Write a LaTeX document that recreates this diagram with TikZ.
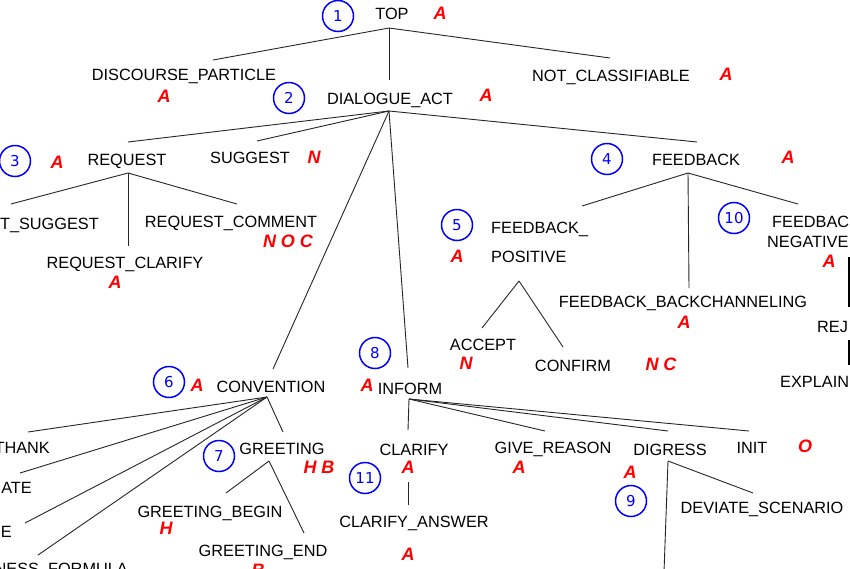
\documentclass[tikz,border=0pt]{standalone}
\usepackage{fontspec}
\setmainfont{Liberation Sans}
\newfontfamily\numfont{DejaVu Sans}
\begin{document}
\begin{tikzpicture}[x=1pt,y=-1pt,
  lbl/.style={inner sep=0pt, anchor=base, font=\fontsize{16.3}{18}\selectfont},
  tag/.style={inner sep=0pt, anchor=base, text=red, font=\fontsize{18}{20}\selectfont\bfseries\itshape},
  num/.style={circle, draw=blue, text=blue, minimum size=31pt, inner sep=0pt, line width=1.5pt, font=\numfont\fontsize{15}{16}\selectfont},
  edge/.style={draw=black!85, line width=0.9pt},
  thick edge/.style={draw=black, line width=2pt}]
\useasboundingbox (0,0) rectangle (850,568);
\clip (0,0) rectangle (850,568);
\fill[white] (0,0) rectangle (850,568);

% ---- circles
\node[num] (c1) at (338,16) {1};
\node[num] (c2) at (289,98) {2};
\node[num] (c3) at (15,161) {3};
\node[num] (c4) at (607,159) {4};
\node[num] (c5) at (457,225) {5};
\node[num] (c6) at (169,382) {6};
\node[num] (c7) at (219,456) {7};
\node[num] (c8) at (375,353) {8};
\node[num] (c9) at (631,501) {9};
\node[num] (c10) at (734,218) {10};
\node[num] (c11) at (365,478) {11};

% ---- labels
\node[lbl] (top) at (392,19) {TOP};
\node[lbl] (dp) at (184,80) {DISCOURSE\_PARTICLE};
\node[lbl] (da) at (390,104) {DIALOGUE\_ACT};
\node[lbl] (nc) at (611,81) {NOT\_CLASSIFIABLE};
\node[lbl] (req) at (127,165) {REQUEST};
\node[lbl] (sug) at (250,163) {SUGGEST};
\node[lbl, anchor=base east] (rs) at (99,229) {T\_SUGGEST};
\node[lbl] (rco) at (231,227) {REQUEST\_COMMENT};
\node[lbl] (rcl) at (125,268) {REQUEST\_CLARIFY};
\node[lbl] (fb) at (696,165) {FEEDBACK};
\node[lbl, anchor=base west] (fp1) at (491,233) {FEEDBACK\_};
\node[lbl, anchor=base west] (fp2) at (491,262) {POSITIVE};
\node[lbl, anchor=base west] (fn1) at (772,227) {FEEDBAC};
\node[lbl, anchor=base west] (fn2) at (767,247) {NEGATIVE};
\node[lbl] (fbc) at (683,307) {FEEDBACK\_BACKCHANNELING};
\node[lbl, anchor=base west] (rej) at (817,332) {REJ};
\node[lbl, anchor=base west] (expl) at (780,387) {EXPLAIN};
\node[lbl] (acc) at (483,350) {ACCEPT};
\node[lbl] (conf) at (573,371) {CONFIRM};
\node[lbl] (conv) at (271,392) {CONVENTION};
\node[lbl] (inf) at (410,394) {INFORM};
\node[lbl, anchor=base east] (th) at (50,453) {THANK};
\node[lbl, anchor=base east] (ate) at (32,493) {ATE};
\node[lbl, anchor=base east] (e) at (12,537) {E};
\node[lbl, anchor=base east] (nf) at (128,574) {NESS\_FORMULA};
\node[lbl] (gr) at (282,454) {GREETING};
\node[lbl] (gb) at (210,517) {GREETING\_BEGIN};
\node[lbl] (ge) at (263,556) {GREETING\_END};
\node[lbl] (cl) at (414,455) {CLARIFY};
\node[lbl] (ca) at (414,527) {CLARIFY\_ANSWER};
\node[lbl] (grs) at (553,453) {GIVE\_REASON};
\node[lbl] (dig) at (670,455) {DIGRESS};
\node[lbl] (init) at (752,453) {INIT};
\node[lbl] (ds) at (762,513) {DEVIATE\_SCENARIO};

% ---- red tags
\node[tag] (t1) at (440,19) {A};
\node[tag] (t2) at (164,102) {A};
\node[tag] (t3) at (486,101) {A};
\node[tag] (t4) at (726,80) {A};
\node[tag] (t5) at (57,168) {A};
\node[tag] (t6) at (314,163) {N};
\node[tag] (t7) at (288,247) {N O C};
\node[tag] (t8) at (115,288) {A};
\node[tag] (t9) at (788,163) {A};
\node[tag] (t10) at (457,262) {A};
\node[tag] (t11) at (829,267) {A};
\node[tag] (t12) at (684,328) {A};
\node[tag] (t13) at (466,369) {N};
\node[tag] (t14) at (661,370) {N C};
\node[tag] (t15) at (197,391) {A};
\node[tag] (t16) at (367,391) {A};
\node[tag] (t17) at (319,473) {H B};
\node[tag] (t18) at (166,534) {H};
\node[tag] (t19) at (258,576) {B};
\node[tag] (t20) at (408,473) {A};
\node[tag] (t21) at (408,560) {A};
\node[tag] (t22) at (519,473) {A};
\node[tag] (t23) at (630,478) {A};
\node[tag] (t24) at (805,452) {O};

% ---- connector end points
\coordinate (topJ) at (389,28);
\coordinate (dpT) at (213,60);
\coordinate (daT) at (389,80);
\coordinate (ncT) at (610,58);
\coordinate (daJ) at (389,111);
\coordinate (reqT) at (128,142);
\coordinate (sugT) at (257,141);
\coordinate (convT) at (273,369);
\coordinate (infT) at (408,368);
\coordinate (fbT) at (697,142);
\coordinate (reqJ) at (128,173);
\coordinate (rsT) at (11,204);
\coordinate (rclT) at (128,246);
\coordinate (rcoT) at (237,204);
\coordinate (fbJ) at (688,173);
\coordinate (fpT) at (582,206);
\coordinate (fbcT) at (689,288);
\coordinate (fnT) at (798,204);
\coordinate (fpJ) at (519,281);
\coordinate (accT) at (482,328);
\coordinate (confT) at (563,347);
\coordinate (convJ) at (267,397);
\coordinate (thT) at (28,432);
\coordinate (ateT) at (20,473);
\coordinate (eT) at (25,523);
\coordinate (nfT) at (38,555);
\coordinate (grT) at (283,432);
\coordinate (grJ) at (269,461);
\coordinate (gbT) at (226,493);
\coordinate (geT) at (304,533);
\coordinate (infJ) at (409,399);
\coordinate (clT) at (408,430);
\coordinate (grsT) at (545,431);
\coordinate (digT) at (668,431);
\coordinate (initT) at (749,431);
\coordinate (clB) at (408,482);
\coordinate (caT) at (408,505);
\coordinate (digJ) at (668,461);
\coordinate (dsT) at (753,493);
\coordinate (digD) at (664,572);
\coordinate (fnA) at (849,257);
\coordinate (rejT) at (849,307);
\coordinate (rejB) at (849,340);
\coordinate (explT) at (849,365);

% ---- connectors
\draw[edge] (topJ) -- (dpT);
\draw[edge] (topJ) -- (daT);
\draw[edge] (topJ) -- (ncT);
\draw[edge] (daJ) -- (reqT);
\draw[edge] (daJ) -- (sugT);
\draw[edge] (daJ) -- (convT);
\draw[edge] (daJ) -- (infT);
\draw[edge] (daJ) -- (fbT);
\draw[edge] (reqJ) -- (rsT);
\draw[edge] (reqJ) -- (rclT);
\draw[edge] (reqJ) -- (rcoT);
\draw[edge] (fbJ) -- (fpT);
\draw[edge] (fbJ) -- (fbcT);
\draw[edge] (fbJ) -- (fnT);
\draw[edge] (fpJ) -- (accT);
\draw[edge] (fpJ) -- (confT);
\draw[edge] (convJ) -- (thT);
\draw[edge] (convJ) -- (ateT);
\draw[edge] (convJ) -- (eT);
\draw[edge] (convJ) -- (nfT);
\draw[edge] (convJ) -- (grT);
\draw[edge] (grJ) -- (gbT);
\draw[edge] (grJ) -- (geT);
\draw[edge] (infJ) -- (clT);
\draw[edge] (infJ) -- (grsT);
\draw[edge] (infJ) -- (digT);
\draw[edge] (infJ) -- (initT);
\draw[edge] (clB) -- (caT);
\draw[edge] (digJ) -- (dsT);
\draw[edge] (digJ) -- (digD);
\draw[thick edge] (fnA) -- (rejT);
\draw[thick edge] (rejB) -- (explT);
\end{tikzpicture}
\end{document}
